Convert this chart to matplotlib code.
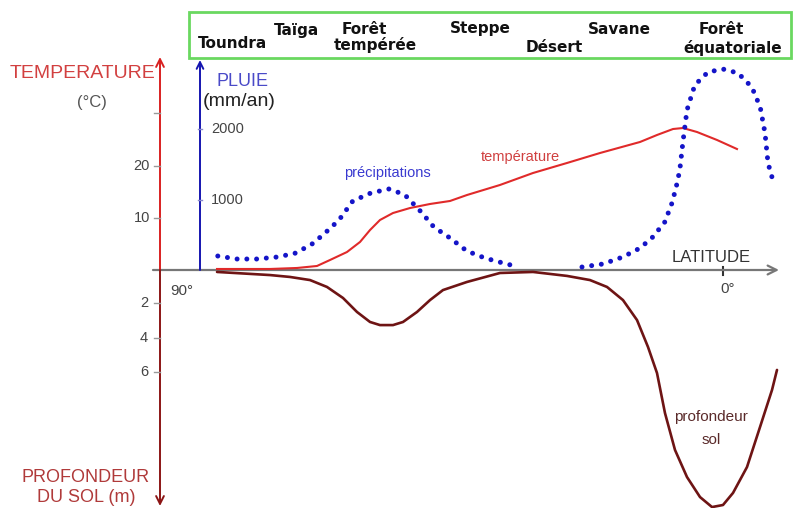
import numpy as np
import matplotlib.pyplot as plt
from matplotlib.patches import Rectangle

rain_lat = [84.2, 81.0, 77.7, 74.3, 72.7, 71.2, 68.5, 66.5, 64.0, 61.7, 58.7, 55.7,
            54.2, 53.0, 50.3, 48.2, 45.5, 42.7, 39.7, 36.7, 34.7, np.nan,
            23.5, 20.0, 16.7, 13.8, 11.7, 9.7, 8.5, 7.8, 7.2, 6.7, 6.0, 4.7, 2.5,
            0.0, -2.5, -4.8, -6.2, -7.0, -7.5, -8.3]
rain_mm = [211, 169, 169, 197, 225, 253, 380, 521, 718, 986, 1098, 1155,
           1110, 1070, 831, 620, 465, 282, 183, 113, 70, np.nan,
           56, 99, 197, 324, 479, 690, 958, 1183, 1422, 1802, 2267, 2619, 2802,
           2844, 2788, 2591, 2309, 1943, 1521, 1281]

temp_lat = [84.33, 75.5, 71.0, 67.67, 65.5, 62.67, 60.5, 58.83, 57.17, 55.0, 52.17,
            48.83, 45.5, 42.67, 37.17, 31.67, 26.0, 20.5, 13.83, 11.0, 8.33, 6.67,
            4.33, 1.0, -2.33]
temp_c = [0.29, 0.29, 0.48, 0.86, 2.0, 3.52, 5.43, 7.71, 9.62, 10.95, 11.9,
          12.67, 13.24, 14.38, 16.29, 18.57, 20.48, 22.38, 24.48, 25.81, 26.95, 27.14,
          26.38, 24.86, 23.14]

soil_lat = [84.33, 75.5, 72.17, 68.83, 66.0, 63.33, 61.0, 58.83, 57.17, 55.0, 53.33,
            51.0, 48.83, 46.67, 42.67, 37.17, 31.67, 26.0, 22.17, 19.33, 16.67, 14.33,
            12.5, 11.0, 9.67, 8.0, 6.0, 3.83, 1.83, 0.0, -1.67, -4.0, -6.17, -8.17, -9.0]
soil_m = [0.2, 0.38, 0.49, 0.67, 1.07, 1.71, 2.52, 3.1, 3.28, 3.28, 3.1,
          2.52, 1.83, 1.25, 0.78, 0.26, 0.2, 0.43, 0.67, 1.07, 1.83, 2.99,
          4.55, 6.06, 8.38, 10.52, 12.09, 13.25, 13.83, 13.71, 13.01, 11.51, 9.19, 7.04, 5.88]

temp_ticks = [10, 20, 30]
temp_ticklabels = ['10', '20', '']
rain_ticks = [1000, 2000]
soil_ticks = [2, 4, 6]

biomes = ['Toundra', 'Taïga', 'Forêt', 'tempérée', 'Steppe', 'Désert', 'Savane', 'Forêt', 'équatoriale']
biome_pos = [(232, 44), (297, 30), (364, 30), (375, 45), (480, 29), (554, 48), (619, 29), (721, 30), (733, 48)]

W, H = 798, 508
base = 270.0  # ligne de l'axe des latitudes (px)


def lat(px):
    return (723 - px) / 6.0


fig = plt.figure(figsize=(W / 100, H / 100), dpi=100)
axp = fig.add_axes([0, 0, 1, 1])
axp.set_xlim(0, W)
axp.set_ylim(H, 0)
axp.axis('off')


def layer(v0_px, ppu, down=False):
    a = fig.add_axes([0, 0, 1, 1])
    a.patch.set_alpha(0)
    a.axis('off')
    a.set_xlim(lat(0), lat(W))
    if down:
        a.set_ylim((H - v0_px) / ppu, -v0_px / ppu)
    else:
        a.set_ylim(-(H - v0_px) / ppu, v0_px / ppu)
    return a


ax_t = layer(270.5, 5.25)
ax_r = layer(271.0, 0.071)
ax_s = layer(268.5, 17.25, down=True)

# axe des latitudes
axp.annotate('', xy=(779, base), xytext=(153, base),
             arrowprops=dict(arrowstyle='->', color='#777777', lw=1.6,
                             mutation_scale=16, shrinkA=0, shrinkB=0))
axp.plot([723, 723], [base - 3, base + 5], color='#333333', lw=1.5)

# axe temperature / profondeur
axp.annotate('', xy=(160, 57), xytext=(160, base),
             arrowprops=dict(arrowstyle='->', color='#d92020', lw=1.4,
                             mutation_scale=14, shrinkA=0, shrinkB=0))
axp.annotate('', xy=(160, 506), xytext=(160, base),
             arrowprops=dict(arrowstyle='->', color='#8c1515', lw=1.4,
                             mutation_scale=14, shrinkA=0, shrinkB=0))
# axe pluie
axp.annotate('', xy=(200, 60), xytext=(200, base),
             arrowprops=dict(arrowstyle='->', color='#1515b0', lw=1.4,
                             mutation_scale=12, shrinkA=0, shrinkB=0))

x_red = lat(160)
x_blue = lat(200)
for t, lab in zip(temp_ticks, temp_ticklabels):
    ax_t.plot([x_red + 1.0, x_red], [t, t], color='#999999', lw=1)
    ax_t.text(lat(150), t, lab, ha='right', va='center', color='#444444',
              fontsize=10.5, family='Liberation Sans')
for s in soil_ticks:
    ax_s.plot([x_red + 1.0, x_red], [s, s], color='#999999', lw=1)
    ax_s.text(lat(148), s, str(s), ha='right', va='center', color='#444444',
              fontsize=10.5, family='Liberation Sans')
for r in rain_ticks:
    ax_r.plot([x_blue + 0.3, x_blue - 0.3], [r, r], color='#8888cc', lw=1)
    ax_r.text(lat(211), r, str(r), ha='left', va='center', color='#444444',
              fontsize=10.5, family='Liberation Sans')

# courbes
ax_s.plot(soil_lat, soil_m, color='#6e1414', lw=1.9, solid_capstyle='round',
          solid_joinstyle='round')
ax_t.plot(temp_lat, temp_c, color='#e02a2a', lw=1.5, solid_joinstyle='round')
ax_r.plot(rain_lat, rain_mm, color='#1414c8', lw=3.6,
          linestyle=(0, (0.001, 1.95)), dash_capstyle='round')

# cadre des biomes
axp.add_patch(Rectangle((189, 12), 602, 46, fill=False, edgecolor='#6ad860', lw=2))
for name, (bx, by) in zip(biomes, biome_pos):
    axp.text(bx, by, name, ha='center', va='center', fontsize=11,
             fontweight='bold', color='#111111', family='DejaVu Sans')

sans = 'Liberation Sans'
axp.text(82, 73, 'TEMPERATURE', ha='center', va='center', color='#d24040', fontsize=14, family=sans)
axp.text(92, 102, '(°C)', ha='center', va='center', color='#555555', fontsize=12, family=sans)
axp.text(217, 82, 'PLUIE', ha='left', va='center', color='#4a4ac8', fontsize=13, family=sans)
axp.text(203, 102, '(mm/an)', ha='left', va='center', color='#222222', fontsize=14, family=sans)
axp.text(182, 291, '90°', ha='center', va='center', color='#444444', fontsize=11, family=sans)
axp.text(728, 289, '0°', ha='center', va='center', color='#444444', fontsize=11, family=sans)
axp.text(711, 258, 'LATITUDE', ha='center', va='center', color='#333333', fontsize=12, family=sans)
axp.text(387, 173, 'précipitations', ha='center', va='center', color='#3a3ad0', fontsize=10.5, family=sans)
axp.text(520, 157, 'température', ha='center', va='center', color='#d04040', fontsize=10.5, family=sans)
axp.text(711, 417, 'profondeur', ha='center', va='center', color='#5a2a2a', fontsize=11, family=sans)
axp.text(711, 440, 'sol', ha='center', va='center', color='#5a2a2a', fontsize=11, family=sans)
axp.text(86, 477, 'PROFONDEUR', ha='center', va='center', color='#b03a3a', fontsize=13, family=sans)
axp.text(86, 498, 'DU SOL (m)', ha='center', va='center', color='#b03a3a', fontsize=13, family=sans)

fig.savefig('out.png', dpi=100)
